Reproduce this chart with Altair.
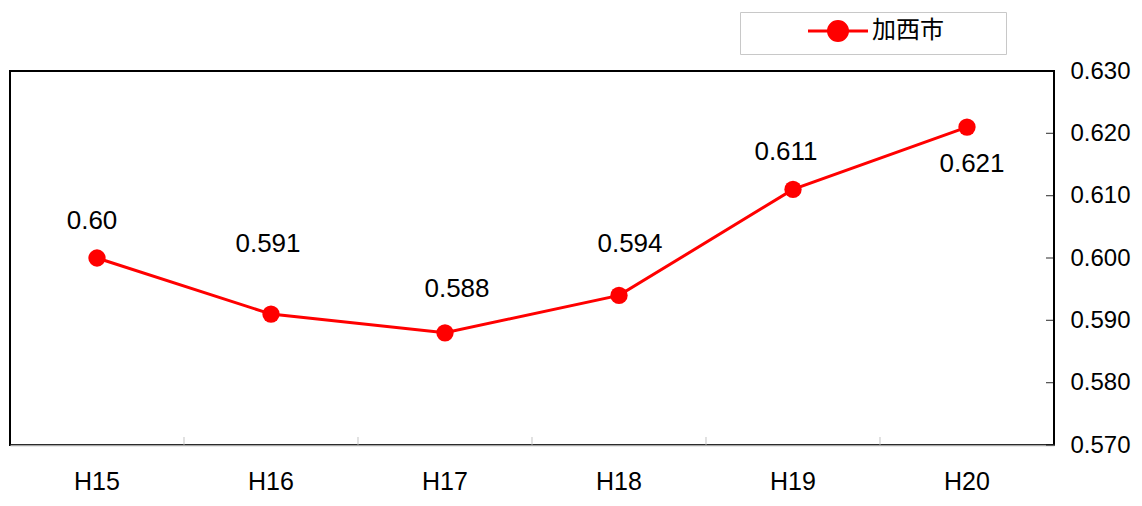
import altair as alt
import pandas as pd

# ---- data ----
YEARS = ["H15", "H16", "H17", "H18", "H19", "H20"]
VALUES = [0.600, 0.591, 0.588, 0.594, 0.611, 0.621]
LABELS = ["0.60", "0.591", "0.588", "0.594", "0.611", "0.621"]
SERIES = "加西市"
Y_TICKS = [0.570, 0.580, 0.590, 0.600, 0.610, 0.620, 0.630]

# ---- styling (label offsets in pixels) ----
LABEL_DX = [-5, -3, 12, 11, -7, 5]
LABEL_DY = [-37, -70, -44, -51, -37, 37]
W, H = 1044, 374
RED = "#ff0000"
FONT = "Liberation Sans"

df = pd.DataFrame({"year": YEARS, "value": VALUES, "label": LABELS,
                   "series": [SERIES] * len(YEARS)})
ticks_df = pd.DataFrame({"v": Y_TICKS})
bounds_df = pd.DataFrame({"b": list(range(1, len(YEARS)))})

xscale = alt.Scale(type="band", domain=YEARS, paddingInner=0, paddingOuter=0)
yscale = alt.Scale(domain=[0.57, 0.63], nice=False, zero=False)

legend_symbol = ("M-3,0 L-0.95,0 M0.95,0 L3,0 "
                 "M-0.95,0 A0.95,0.95 0 1,0 0.95,0 A0.95,0.95 0 1,0 -0.95,0 Z")

x_axis = alt.Axis(title=None, labelAngle=0, labelAlign="center", ticks=False,
                  domainColor="#a6a6a6", domainWidth=1.5,
                  labelFont=FONT, labelFontSize=25, labelColor="#000",
                  labelPadding=24)
y_axis = alt.Axis(orient="right", title=None, values=Y_TICKS,
                  format=".3f", ticks=False, domain=False, grid=False,
                  labelFont=FONT, labelFontSize=24, labelColor="#000",
                  labelPadding=16, labelBaseline="middle")

x_enc = alt.X("year:N", scale=xscale, sort=YEARS, axis=x_axis)
y_enc = alt.Y("value:Q", scale=yscale, axis=y_axis)

color_enc = alt.Color("series:N",
                      scale=alt.Scale(domain=[SERIES], range=[RED]),
                      legend=alt.Legend(title=".", titleColor="white",
                                        titleFontSize=10, titleOrient="right",
                                        titlePadding=52,
                                        orient="none",
                                        legendX=730, legendY=-59,
                                        symbolType=legend_symbol,
                                        symbolSize=400, symbolStrokeWidth=3,
                                        symbolFillColor=RED, symbolStrokeColor=RED,
                                        symbolOffset=79, labelOffset=22,
                                        labelFont="Noto Sans CJK JP",
                                        labelFontSize=24, labelColor="#000",
                                        strokeColor="#c8c8c8", padding=7))

base = alt.Chart(df)

line = base.mark_line(strokeWidth=3).encode(x=x_enc, y=y_enc, color=color_enc)
points = base.mark_circle(size=300, opacity=1).encode(
    x=x_enc, y=y_enc,
    color=alt.Color("series:N", scale=alt.Scale(domain=[SERIES], range=[RED]), legend=None))

label_layers = []
for yr, dx, dy in zip(YEARS, LABEL_DX, LABEL_DY):
    label_layers.append(
        base.transform_filter(alt.datum.year == yr)
        .mark_text(font=FONT, fontSize=26, color="#000", baseline="middle",
                   dx=dx, dy=dy)
        .encode(x=x_enc, y=y_enc, text="label:N"))

yticks = alt.Chart(ticks_df).mark_tick(color="#000", thickness=1.2, size=8,
                                      orient="horizontal").encode(
    y=alt.Y("v:Q", scale=yscale, axis=y_axis),
    x=alt.value(W - 4))

main = alt.layer(yticks, line, points, *label_layers)

xticks = alt.Chart(bounds_df).mark_tick(color="#b8b8b8", thickness=1.2, size=8,
                                        orient="vertical").encode(
    x=alt.X("b:Q", scale=alt.Scale(domain=[0, len(YEARS)], nice=False), axis=None),
    y=alt.value(H - 4))

chart = alt.layer(main, xticks).resolve_scale(x="independent").properties(
    width=W, height=H,
    autosize=alt.AutoSizeParams(type="none"),
    padding={"left": 2, "top": 63, "right": 80, "bottom": 53},
).configure_view(stroke="#000", strokeWidth=2)

chart.save("out.html", embed_options={"renderer": "svg", "actions": False})
